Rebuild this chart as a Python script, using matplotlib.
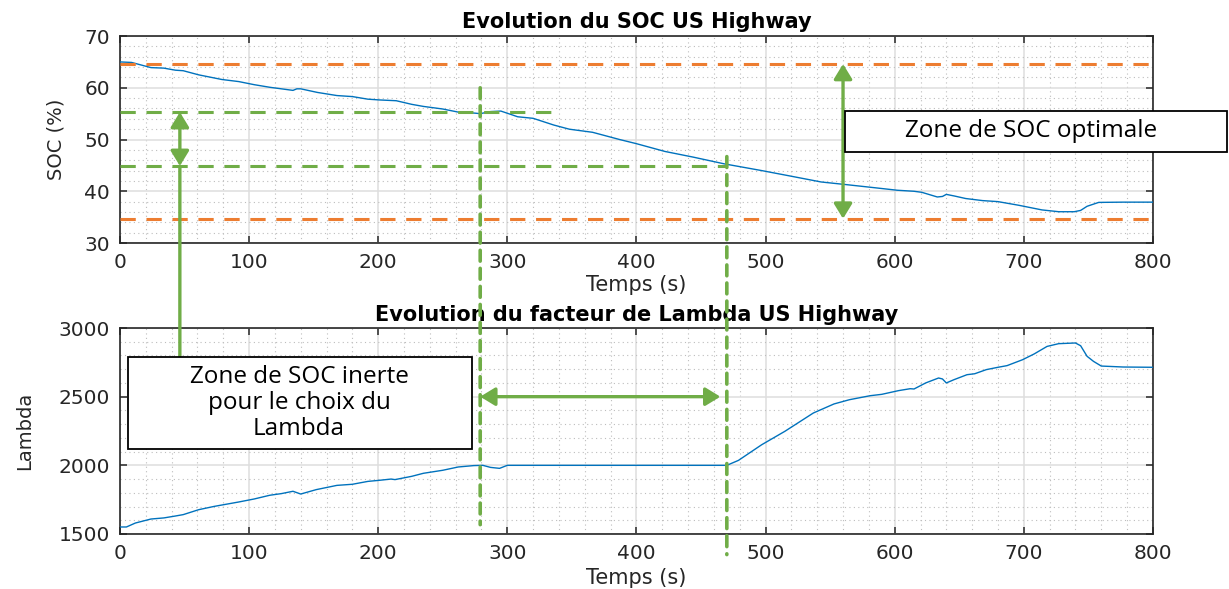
import matplotlib
matplotlib.use('Agg')
import matplotlib.pyplot as plt
from matplotlib.patches import ConnectionPatch, Rectangle
from matplotlib.ticker import MultipleLocator

# ---- data ----
t_soc = [0, 9, 24, 34, 43, 49, 61, 79, 92, 104, 116, 125, 134, 137, 140, 153, 168, 180,
         192, 201, 214, 226, 235, 250, 262, 275, 279, 287, 295, 301, 308, 320, 336, 348,
         366, 387, 400, 422, 444, 468, 497, 518, 543, 562, 584, 602, 615, 621, 633, 637,
         640, 646, 655, 668, 680, 696, 714, 727, 739, 744, 749, 758, 777, 800]
soc = [65.0, 64.9, 63.9, 63.8, 63.4, 63.3, 62.5, 61.6, 61.2, 60.6, 60.1, 59.8, 59.5, 59.8,
       59.8, 59.1, 58.5, 58.3, 57.8, 57.65, 57.5, 56.8, 56.4, 55.9, 55.3, 55.1, 55.0, 55.4,
       55.5, 55.0, 54.4, 54.1, 52.8, 52.0, 51.4, 50.0, 49.2, 47.7, 46.6, 45.3, 44.0, 43.0,
       41.8, 41.3, 40.7, 40.2, 40.0, 39.8, 38.9, 39.0, 39.4, 39.1, 38.6, 38.2, 38.0, 37.3,
       36.4, 36.05, 36.05, 36.3, 37.1, 37.85, 37.9, 37.9]

t_lam = [0, 5, 12, 24, 34, 43, 49, 61, 73, 92, 104, 116, 125, 134, 140, 152, 168, 180,
         192, 201, 210, 213, 226, 235, 250, 262, 274, 281, 287, 294, 300, 470, 479, 497,
         515, 537, 553, 565, 581, 590, 603, 612, 615, 624, 634, 637, 640, 646, 656, 662,
         671, 680, 687, 699, 708, 718, 727, 740, 744, 749, 754, 760, 777, 800]
lam = [1551, 1551, 1580, 1609, 1617, 1631, 1641, 1677, 1701, 1733, 1755, 1782, 1794, 1811,
       1791, 1823, 1854, 1862, 1883, 1891, 1900, 1896, 1920, 1942, 1964, 1988, 1998, 2000,
       1985, 1978, 2000, 2000, 2036, 2150, 2248, 2381, 2447, 2478, 2507, 2517, 2544, 2558,
       2556, 2600, 2636, 2629, 2600, 2624, 2660, 2667, 2697, 2714, 2726, 2769, 2811, 2866,
       2886, 2891, 2871, 2794, 2757, 2723, 2716, 2714]

soc_opt_bounds = [64.6, 34.7]
soc_inert_bounds = [55.3, 44.9]
t_inert = [279, 470]

title_top = 'Evolution du SOC US Highway'
title_bot = 'Evolution du facteur de Lambda US Highway'
xlabel = 'Temps (s)'
ylabel_top = 'SOC (%)'
ylabel_bot = 'Lambda'
box_opt_text = 'Zone de SOC optimale'
box_inert_text = 'Zone de SOC inerte\npour le choix du\nLambda'

BLUE = '#0072BD'
ORANGE = '#ED7D31'
GREEN = '#70AD47'
DARK = '#262626'

fig = plt.figure(figsize=(12.29, 5.89), dpi=100)
ax1 = fig.add_axes([0.0976, 0.5874, 0.8405, 0.3514])
ax2 = fig.add_axes([0.0976, 0.0934, 0.8405, 0.3497])


def style(ax, ylim, ymaj, ymin):
    ax.set_xlim(0, 800)
    ax.set_ylim(*ylim)
    ax.xaxis.set_major_locator(MultipleLocator(100))
    ax.xaxis.set_minor_locator(MultipleLocator(20))
    ax.yaxis.set_major_locator(MultipleLocator(ymaj))
    ax.yaxis.set_minor_locator(MultipleLocator(ymin))
    ax.grid(which='major', color='#dedede', lw=1.1)
    ax.grid(which='minor', color='#bdbdbd', lw=0.8, linestyle=(0, (1, 3)))
    ax.set_axisbelow(True)
    ax.tick_params(which='both', direction='in', top=True, right=True,
                   labelsize=14.5, colors=DARK, pad=7)
    ax.tick_params(which='major', length=5, width=1.1)
    ax.tick_params(which='minor', length=0)
    for s in ax.spines.values():
        s.set_color(DARK)
        s.set_linewidth(1.2)


style(ax1, (30, 70), 10, 2)
style(ax2, (1500, 3000), 500, 100)

ax1.plot(t_soc, soc, color=BLUE, lw=1.0, zorder=3)
ax2.plot(t_lam, lam, color=BLUE, lw=1.0, zorder=3)

ax1.set_title(title_top, fontsize=15, fontweight='bold', pad=6)
ax2.set_title(title_bot, fontsize=15, fontweight='bold', pad=5)
for ax, y in ((ax1, -0.155), (ax2, -0.165)):
    ax.set_xlabel(xlabel, fontsize=15, color=DARK)
    ax.xaxis.set_label_coords(0.5, y)
ax1.set_ylabel(ylabel_top, fontsize=14, color=DARK)
ax1.yaxis.set_label_coords(-0.053, 0.5)
ax2.set_ylabel(ylabel_bot, fontsize=14, color=DARK)
ax2.yaxis.set_label_coords(-0.083, 0.5)

# orange optimal bounds
for v in soc_opt_bounds:
    ax1.plot([0, 800], [v, v], color=ORANGE, lw=2.2, dashes=(5, 3.5), zorder=4)
# green inert bounds
ax1.plot([0, 337], [soc_inert_bounds[0]] * 2, color=GREEN, lw=2.2, dashes=(5, 3.5), zorder=4)
ax1.plot([0, t_inert[1]], [soc_inert_bounds[1]] * 2, color=GREEN, lw=2.2, dashes=(5, 3.5), zorder=4)

arrow_kw = dict(arrowstyle='<|-|>,head_length=0.9,head_width=0.55', color=GREEN, lw=2.4,
                shrinkA=0, shrinkB=0)
ax1.annotate('', xy=(560, soc_opt_bounds[0]), xytext=(560, soc_opt_bounds[1]),
             arrowprops=arrow_kw, zorder=5)
ax1.annotate('', xy=(46.4, soc_inert_bounds[0]), xytext=(46.4, soc_inert_bounds[1]),
             arrowprops=arrow_kw, zorder=5)
ax2.annotate('', xy=(t_inert[0], 2500), xytext=(465, 2500),
             arrowprops=arrow_kw, zorder=5)

# connector line from left arrow down to the box
con = ConnectionPatch(xyA=(46.4, soc_inert_bounds[1]), coordsA=ax1.transData,
                      xyB=(46.4, 2794), coordsB=ax2.transData,
                      color=GREEN, lw=2.4)
fig.add_artist(con)

# vertical dashed lines across both plots
v1 = ConnectionPatch(xyA=(t_inert[0], 60), coordsA=ax1.transData,
                     xyB=(t_inert[0], 1568), coordsB=ax2.transData,
                     color=GREEN, lw=2.6, linestyle=(0, (3, 2)))
fig.add_artist(v1)
v2 = ConnectionPatch(xyA=(t_inert[1], 46.7), coordsA=ax1.transData,
                     xyB=(t_inert[1], 1350), coordsB=ax2.transData,
                     color=GREEN, lw=2.6, linestyle=(0, (3, 2)))
fig.add_artist(v2)

W, H = 1229.0, 589.0
# box: optimal zone
fig.add_artist(Rectangle((845 / W, 1 - 152 / H), 382 / W, 41 / H, transform=fig.transFigure,
                         facecolor='white', edgecolor='black', lw=1.3, zorder=6))
fig.text(1031 / W, 1 - 131.5 / H, box_opt_text, ha='center', va='center',
         fontsize=17.5, family='Open Sans', zorder=7)
# box: inert zone
fig.add_artist(Rectangle((128 / W, 1 - 449 / H), 344 / W, 92 / H, transform=fig.transFigure,
                         facecolor='white', edgecolor='black', lw=1.3, zorder=6))
fig.text(299 / W, 1 - 403 / H, box_inert_text, ha='center', va='center',
         fontsize=17.5, family='Open Sans', linespacing=1.12, zorder=7)

fig.savefig('out.png', dpi=100)
